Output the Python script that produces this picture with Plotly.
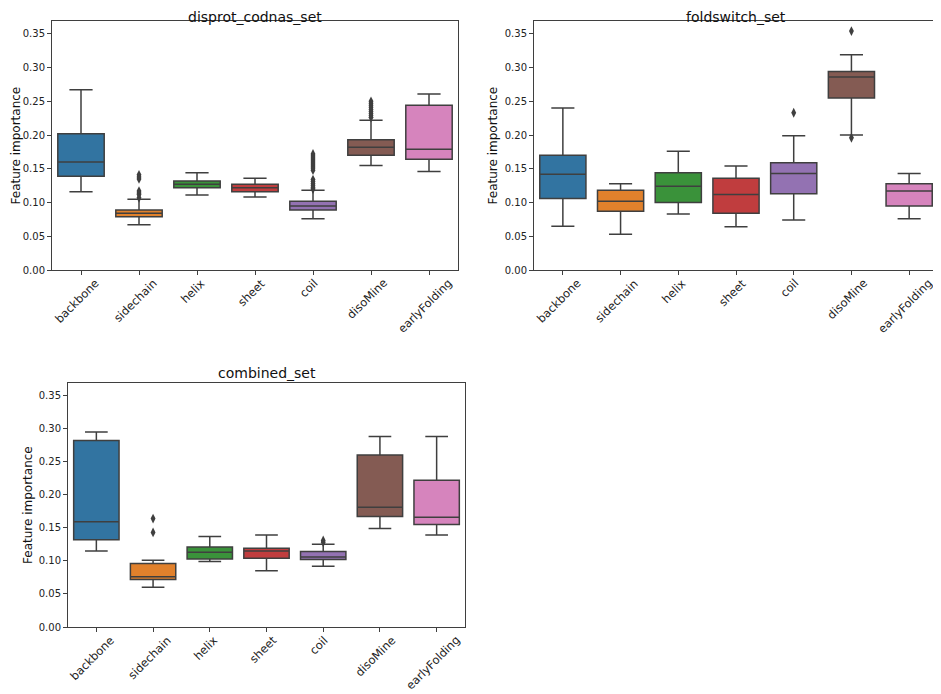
import plotly.graph_objects as go

# Feature categories (x axis)
features = ["backbone", "sidechain", "helix", "sheet", "coil", "disoMine", "earlyFolding"]
colors = ["#3274a1", "#e1812c", "#3a923a", "#c03d3e", "#9372b2", "#845b53", "#d684bd"]

# --- disprot_codnas_set ---
disprot_lo = [0.116, 0.067, 0.111, 0.108, 0.076, 0.155, 0.146]
disprot_q1 = [0.139, 0.079, 0.122, 0.116, 0.089, 0.170, 0.164]
disprot_med = [0.160, 0.084, 0.127, 0.122, 0.095, 0.182, 0.179]
disprot_q3 = [0.202, 0.089, 0.132, 0.127, 0.102, 0.193, 0.244]
disprot_hi = [0.267, 0.105, 0.144, 0.136, 0.118, 0.222, 0.261]
disprot_out = {
    "sidechain": [0.141, 0.138, 0.135, 0.117, 0.114, 0.112, 0.107],
    "coil": [0.172, 0.169, 0.166, 0.163, 0.160, 0.157, 0.154, 0.151, 0.148,
             0.134, 0.131, 0.128, 0.125, 0.122, 0.120],
    "disoMine": [0.250, 0.247, 0.244, 0.241, 0.238, 0.235, 0.232, 0.229, 0.226],
}

# --- foldswitch_set ---
fold_lo = [0.065, 0.053, 0.083, 0.064, 0.074, 0.200, 0.076]
fold_q1 = [0.106, 0.087, 0.100, 0.084, 0.113, 0.255, 0.095]
fold_med = [0.142, 0.102, 0.124, 0.112, 0.143, 0.286, 0.117]
fold_q3 = [0.170, 0.118, 0.144, 0.136, 0.159, 0.294, 0.128]
fold_hi = [0.240, 0.128, 0.176, 0.154, 0.199, 0.319, 0.143]
fold_out = {
    "coil": [0.233],
    "disoMine": [0.354, 0.196],
}

# --- combined_set ---
comb_lo = [0.115, 0.060, 0.099, 0.085, 0.092, 0.149, 0.139]
comb_q1 = [0.132, 0.072, 0.103, 0.104, 0.102, 0.167, 0.155]
comb_med = [0.159, 0.076, 0.113, 0.115, 0.106, 0.181, 0.166]
comb_q3 = [0.282, 0.096, 0.121, 0.119, 0.114, 0.260, 0.222]
comb_hi = [0.295, 0.101, 0.137, 0.139, 0.125, 0.288, 0.288]
comb_out = {
    "sidechain": [0.164, 0.143],
    "coil": [0.131, 0.128],
}

panels = [
    ("disprot_codnas_set", disprot_lo, disprot_q1, disprot_med, disprot_q3, disprot_hi, disprot_out),
    ("foldswitch_set", fold_lo, fold_q1, fold_med, fold_q3, fold_hi, fold_out),
    ("combined_set", comb_lo, comb_q1, comb_med, comb_q3, comb_hi, comb_out),
]

W, H = 941, 694
OFF = 8  # page body margin, screen px -> figure px
# plot-area boxes in screen px: left, right, top, bottom
boxes = [(52, 458, 21, 270), (534, 938, 21, 270), (68, 465, 383, 627)]
# y-label left edge and title top edge (screen px)
ylabel_left = [8, 485, 20]
title_top = [8, 8, 364]

EDGE = "#3f3f3f"
FONT = "DejaVu Sans"


def fx(px):
    return (px - OFF) / W


def fy(py):
    return 1 - (py - OFF) / H


fig = go.Figure()
annotations = []
layout_axes = {}

for i, (title, lo, q1, med, q3, hi, out) in enumerate(panels):
    n = "" if i == 0 else str(i + 1)
    xa, ya = "x" + n, "y" + n
    for j, f in enumerate(features):
        fig.add_trace(go.Box(
            x=[f], q1=[q1[j]], median=[med[j]], q3=[q3[j]],
            lowerfence=[lo[j]], upperfence=[hi[j]],
            fillcolor=colors[j], line=dict(color=EDGE, width=1.5),
            width=0.8, whiskerwidth=0.5, boxpoints=False,
            xaxis=xa, yaxis=ya, showlegend=False, hoverinfo="y",
        ))
        if f in out:
            fig.add_trace(go.Scatter(
                x=[f] * len(out[f]), y=out[f], mode="markers",
                marker=dict(symbol="diamond-tall", size=7, color=EDGE),
                xaxis=xa, yaxis=ya, showlegend=False,
            ))
    l, r, t, b = boxes[i]
    layout_axes["xaxis" + n] = dict(
        domain=[fx(l), fx(r)], anchor=ya, type="category",
        categoryorder="array", categoryarray=features,
        range=[-0.5, 6.5], showticklabels=False, ticks="outside", ticklen=4,
        tickcolor=EDGE, showline=True, linecolor=EDGE, linewidth=1,
        mirror=True, showgrid=False, automargin=False,
    )
    layout_axes["yaxis" + n] = dict(
        domain=[fy(b), fy(t)], anchor=xa, range=[0, 0.369],
        tickvals=[0, 0.05, 0.1, 0.15, 0.2, 0.25, 0.3, 0.35],
        tickformat=".2f", ticks="outside", ticklen=4, tickcolor=EDGE,
        showline=True, linecolor=EDGE, linewidth=1, mirror=True,
        showgrid=False, zeroline=False, automargin=False,
        tickfont=dict(family=FONT, size=10, color="#222"),
    )
    # rotated category labels, centred under each tick (matplotlib style)
    for j, f in enumerate(features):
        annotations.append(dict(
            text=f, textangle=-45, x=j, xref=xa, y=fy(b + 5), yref="paper",
            xanchor="center", yanchor="top", xshift=-4, showarrow=False,
            borderpad=0, font=dict(family=FONT, size=11.5, color="#222"),
        ))
    annotations.append(dict(
        text=title, x=fx((l + r) / 2), y=fy(title_top[i]), xref="paper", yref="paper",
        xanchor="center", yanchor="top", showarrow=False, borderpad=0,
        font=dict(family=FONT, size=14, color="#111"),
    ))
    annotations.append(dict(
        text="Feature importance", textangle=-90,
        x=fx(ylabel_left[i]), y=fy((t + b) / 2), xref="paper", yref="paper",
        xanchor="left", yanchor="middle", showarrow=False, borderpad=0,
        font=dict(family=FONT, size=12, color="#111"),
    ))

fig.update_layout(
    width=W, height=H,
    margin=dict(l=0, r=0, t=0, b=0),
    paper_bgcolor="white", plot_bgcolor="white",
    annotations=annotations,
    **layout_axes,
)

fig.write_html("out.html")
